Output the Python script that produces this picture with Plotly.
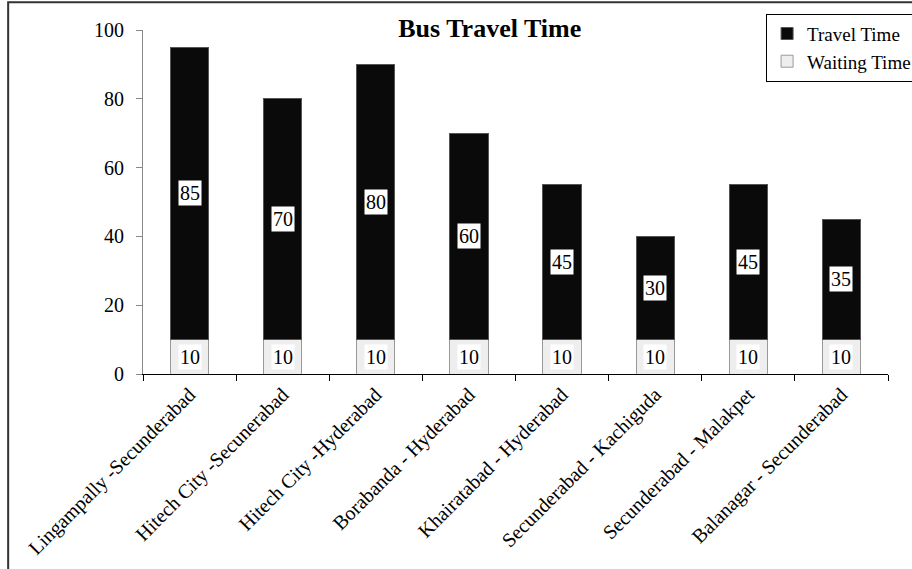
import plotly.graph_objects as go

categories = ["Lingampally -Secunderabad", "Hitech City -Secunerabad", "Hitech City -Hyderabad",
              "Borabanda - Hyderabad", "Khairatabad - Hyderabad", "Secunderabad - Kachiguda",
              "Secunderabad - Malakpet", "Balanagar - Secunderabad"]
waiting = [10, 10, 10, 10, 10, 10, 10, 10]
travel = [85, 70, 80, 60, 45, 30, 45, 35]
y_ticks = [0, 20, 40, 60, 80, 100]

FONT = "Liberation Serif, Times New Roman, serif"

fig = go.Figure()
fig.add_trace(go.Bar(x=categories, y=waiting, name="Waiting Time", width=0.41,
                     marker=dict(color="#eeeeee", line=dict(color="#999999", width=1))))
fig.add_trace(go.Bar(x=categories, y=travel, name="Travel Time", width=0.41,
                     marker=dict(color="#0a0a0a", line=dict(color="#555555", width=1))))

annotations = []
for c, w, t in zip(categories, waiting, travel):
    annotations.append(dict(x=c, y=w / 2, text=str(w), showarrow=False, bgcolor="white",
                            borderpad=1, font=dict(family=FONT, size=20, color="black")))
    annotations.append(dict(x=c, y=w + t / 2, text=str(t), showarrow=False, bgcolor="white",
                            borderpad=1, font=dict(family=FONT, size=20, color="black")))

fig.update_layout(
    width=912, height=569,
    margin=dict(l=143, r=24, t=30, b=195, autoexpand=False),
    barmode="stack",
    plot_bgcolor="white", paper_bgcolor="white",
    font=dict(family=FONT, size=20, color="black"),
    title=dict(text="<b>Bus Travel Time</b>", x=0.537, xanchor="center", y=0.951, yanchor="middle",
               font=dict(family=FONT, size=26, color="black")),
    showlegend=True,
    legend=dict(xref="container", yref="container", x=0.84, y=0.976, xanchor="left", yanchor="top",
                traceorder="reversed",
                bordercolor="black", borderwidth=1, bgcolor="white",
                font=dict(family=FONT, size=19, color="black"),
                itemwidth=30, tracegroupgap=0),
    annotations=annotations,
    shapes=[dict(type="rect", xref="paper", yref="paper", x0=-0.181, x1=1.2, y0=-1.0, y1=1.081,
                 line=dict(color="#333333", width=2), fillcolor="rgba(0,0,0,0)", layer="below")],
)
fig.update_xaxes(showline=True, linecolor="black", linewidth=1, ticks="outside", ticklen=6,
                 tickcolor="black", tickson="boundaries", tickangle=-45, showgrid=False,
                 automargin=False,
                 tickfont=dict(family=FONT, size=20, color="black"))
fig.update_yaxes(range=[0, 100], tickvals=y_ticks, showline=True, linecolor="#888888", linewidth=1,
                 ticks="outside", ticklen=6, tickcolor="#888888", showgrid=False, zeroline=False,
                 ticklabelstandoff=8, automargin=False,
                 tickfont=dict(family=FONT, size=20, color="black"))

fig.write_html("out.html")
